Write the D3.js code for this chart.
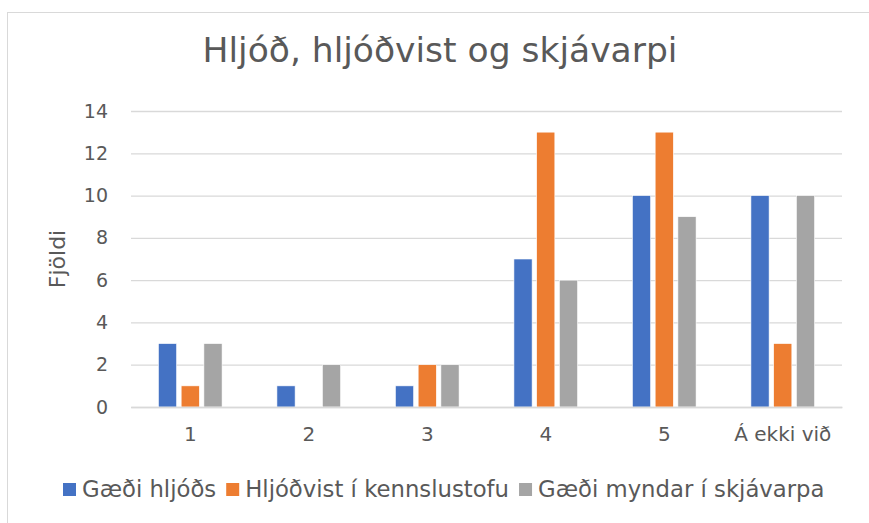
<html>
<script src='https://cdn.jsdelivr.net/npm/d3@7'></script>
<style>
body {margin: 0; background: #fff;}
text {font-family: 'DejaVu Sans', sans-serif; fill: #595959;}
</style>
<body>
<svg width=869 height=523></svg>
<script>
var categories = ["1", "2", "3", "4", "5", "Á ekki við"];
var seriesNames = ["Gæði hljóðs", "Hljóðvist í kennslustofu", "Gæði myndar í skjávarpa"];
var haldHljods = [3, 1, 1, 7, 10, 10];
var hljodvist = [1, 0, 2, 13, 13, 3];
var myndSkjavarpa = [3, 2, 2, 6, 9, 10];
var yTicks = [0, 2, 4, 6, 8, 10, 12, 14];
var colors = ["#4472C4", "#ED7D31", "#A5A5A5"];

var seriesValues = [haldHljods, hljodvist, myndSkjavarpa];
var data = categories.map(function(c, i) {
  return {cat: c, values: seriesValues.map(function(s, j) { return {key: j, value: s[i]}; })};
});

var svg = d3.select("svg");

// shrink/grow font so the text is as wide as the target
function fit(sel, target) {
  var w = sel.node().getComputedTextLength();
  var fs = parseFloat(sel.attr("font-size"));
  sel.attr("font-size", fs * target / w);
  return fs * target / w;
}

svg.append("rect")
  .attr("x", 7.5).attr("y", 12.5)
  .attr("width", 900).attr("height", 600)
  .attr("fill", "none").attr("stroke", "#d9d9d9");

var margin = {left: 131, right: 27, top: 111, bottom: 116};
var width = 869 - margin.left - margin.right;
var height = 523 - margin.top - margin.bottom;

var x0 = d3.scaleBand().domain(categories).range([0, width]).paddingInner(0.386).paddingOuter(0.193);
var x1 = d3.scaleBand().domain([0, 1, 2]).range([0, x0.bandwidth()]).padding(0.2);
var y = d3.scaleLinear().domain([0, 14]).range([height, 0]);

var g = svg.append("g").attr("transform", "translate(" + margin.left + "," + margin.top + ")");

g.append("g")
  .call(d3.axisLeft(y).tickValues(yTicks).tickSize(-width).tickFormat(d3.format("d")))
  .call(function(a) {
    a.select(".domain").remove();
    a.selectAll("line").attr("stroke", "#d9d9d9").attr("stroke-width", 1.3);
    a.selectAll("text").attr("x", -23).attr("font-size", 19).attr("fill", "#595959");
  });

g.selectAll(".grp")
  .data(data)
  .enter().append("g")
  .attr("transform", function(d) { return "translate(" + x0(d.cat) + ",0)"; })
  .selectAll("rect")
  .data(function(d) { return d.values; })
  .enter().append("rect")
  .attr("x", function(d) { return x1(d.key); })
  .attr("width", x1.bandwidth())
  .attr("y", function(d) { return y(d.value); })
  .attr("height", function(d) { return height - y(d.value); })
  .attr("fill", function(d) { return colors[d.key]; })
  .attr("stroke", "#fff").attr("stroke-width", 0.6);

g.append("g")
  .attr("transform", "translate(0," + height + ")")
  .call(d3.axisBottom(x0).tickSize(0).tickPadding(20))
  .call(function(a) {
    a.select(".domain").attr("stroke", "#d9d9d9").attr("stroke-width", 1.5);
    a.selectAll("text").attr("font-size", 20).attr("fill", "#595959");
  });

var title = svg.append("text")
  .attr("x", 440).attr("y", 62)
  .attr("text-anchor", "middle")
  .attr("font-size", 30)
  .text("Hljóð, hljóðvist og skjávarpi");
fit(title, 475);

svg.append("text")
  .attr("transform", "translate(65,259) rotate(-90)")
  .attr("text-anchor", "middle")
  .attr("font-size", 22)
  .text("Fjöldi");

// legend: items laid out one after another, font sized so the row spans 63..825
var sq = 13, txtGap = 6, itemGap = 10, left = 63, right = 825;
var legend = svg.append("g").selectAll("g")
  .data(seriesNames)
  .enter().append("g");
legend.append("rect").attr("width", sq).attr("height", sq).attr("y", 483)
  .attr("fill", function(d, i) { return colors[i]; });
var ltext = legend.append("text").attr("x", sq + txtGap).attr("y", 497)
  .attr("font-size", 20)
  .text(function(d) { return d; });
var textW = d3.sum(ltext.nodes(), function(n) { return n.getComputedTextLength(); });
var avail = (right - left) - seriesNames.length * (sq + txtGap) - (seriesNames.length - 1) * itemGap;
ltext.attr("font-size", 20 * avail / textW);
var cx = left;
legend.attr("transform", function(d, i) {
  var t = "translate(" + cx + ",0)";
  cx += sq + txtGap + ltext.nodes()[i].getComputedTextLength() + itemGap;
  return t;
});
</script>
</body>
</html>
